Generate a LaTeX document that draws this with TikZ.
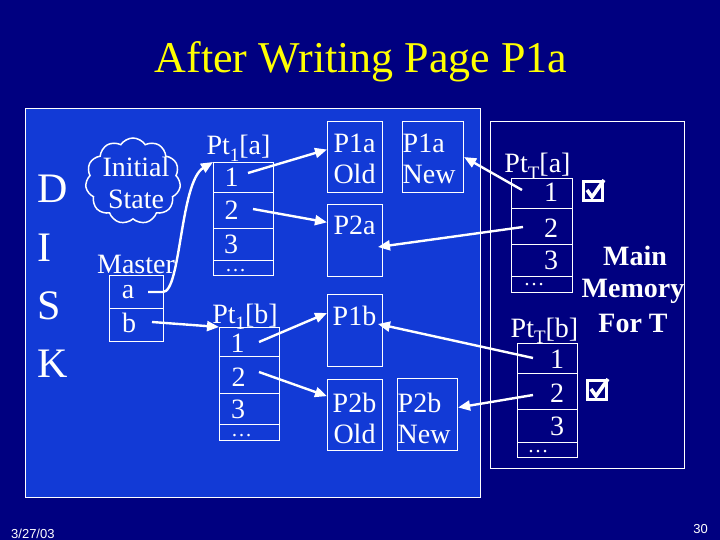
\documentclass[tikz,border=0pt]{standalone}
\usepackage{fontspec}
\setmainfont{Liberation Serif}
\newfontfamily\datefont{Liberation Sans}
\usetikzlibrary{shapes.symbols,arrows.meta}
\definecolor{navy}{RGB}{0,0,128}
\definecolor{diskblue}{RGB}{18,58,214}
\definecolor{titleyellow}{RGB}{255,255,0}
\newcommand\sbs[1]{\raisebox{-0.24em}{\fontsize{19}{19}\selectfont #1}}
\begin{document}
\begin{tikzpicture}[x=1pt,y=-1pt,
  txt/.style={text=white, font=\fontsize{28}{28}\selectfont, inner sep=0, anchor=base},
  dots/.style={text=white, font=\fontsize{21}{21}\selectfont, inner sep=0, anchor=base},
  big/.style={text=white, font=\fontsize{42}{42}\selectfont, inner sep=0, anchor=base west},
  bold/.style={text=white, font=\bfseries\fontsize{28}{28}\selectfont, inner sep=0, anchor=base},
  small/.style={text=white, font=\datefont\fontsize{13}{13}\selectfont, inner sep=0},
  cell/.style={draw=white, line width=1.1pt, anchor=north west, inner sep=0, minimum width=#1},
  pagebox/.style={draw=white, line width=1.1pt, anchor=north west, inner sep=0},
  arr/.style={white, line width=2.4pt, -{Triangle[length=12pt,width=10pt]}},
  chk/.style={draw=white, line width=3pt, minimum size=19pt, inner sep=0},
  chkmark/.style={white, line width=3.6pt, line join=miter},
]
\useasboundingbox (0,0) rectangle (720,540);
\fill[navy] (0,0) rectangle (720,540);

% title
\node[text=titleyellow, font=\fontsize{44}{44}\selectfont, inner sep=0, anchor=base] (title) at (361,73) {After Writing Page P1a};

% disk and memory areas
\node[draw=white, fill=diskblue, line width=0.8pt, anchor=north west, minimum width=455pt, minimum height=389pt, inner sep=0] (disk) at (25,108) {};
\node[draw=white, line width=1pt, anchor=north west, minimum width=194pt, minimum height=347pt, inner sep=0] (mem) at (490,121) {};

% DISK letters
\node[big] (lD) at (37,203) {D};
\node[big] (lI) at (37,261) {I};
\node[big] (lS) at (37,319) {S};
\node[big] (lK) at (37,377) {K};

% initial state cloud
\node[cloud, draw=white, line width=1.5pt, cloud puffs=11, cloud puff arc=115, aspect=1.15, minimum width=95pt, minimum height=86pt, inner sep=0] (cloud) at (133,181) {};
\node[txt, anchor=center, align=center, font=\fontsize{28}{32}\selectfont] (inittxt) at (136,183) {Initial\\State};

% Master
\node[txt] (masterlbl) at (136,273) {Master};
\node[cell=54pt, minimum height=33pt] (ma) at (109,275) {};
\node[cell=54pt, minimum height=33pt] (mb) at (109,308) {};
\node[txt] (mat) at (128,298) {a};
\node[txt] (mbt) at (129,332) {b};
\coordinate (mastart) at (148,292);
\coordinate (mbstart) at (152,322);

% Pt1[a]
\node[txt] (talbl) at (238.5,155) {Pt\sbs{1}[a]};
\node[cell=60pt, minimum height=30pt] (ta1) at (213,162) {};
\node[cell=60pt, minimum height=36pt] (ta2) at (213,192) {};
\node[cell=60pt, minimum height=32pt] (ta3) at (213,228) {};
\node[cell=60pt, minimum height=15pt] (ta4) at (213,260) {};
\node[txt] (ta1t) at (231.5,187) {1};
\node[txt] (ta2t) at (231.5,219) {2};
\node[txt] (ta3t) at (231,254) {3};
\node[dots] (ta4t) at (235.5,271) {…};
\coordinate (ta1s) at (248,173);
\coordinate (ta2s) at (253,209);

% Pt1[b]
\node[txt] (tblbl) at (245,323) {Pt\sbs{1}[b]};
\node[cell=60pt, minimum height=29pt] (tb1) at (219,327) {};
\node[cell=60pt, minimum height=37pt] (tb2) at (219,356) {};
\node[cell=60pt, minimum height=31pt] (tb3) at (219,393) {};
\node[cell=60pt, minimum height=16pt] (tb4) at (219,424) {};
\node[txt] (tb1t) at (237.5,352) {1};
\node[txt] (tb2t) at (238.5,386) {2};
\node[txt] (tb3t) at (238,418) {3};
\node[dots] (tb4t) at (241.5,436) {…};
\coordinate (tb1s) at (259,342);
\coordinate (tb2s) at (259,372);

% disk pages
\node[pagebox, minimum width=55pt, minimum height=71pt] (p1aold) at (327,121) {};
\node[pagebox, minimum width=61pt, minimum height=71pt] (p1anew) at (402,121) {};
\node[pagebox, minimum width=55pt, minimum height=72pt] (p2a) at (327,204) {};
\node[pagebox, minimum width=55pt, minimum height=72pt] (p1b) at (327,294) {};
\node[pagebox, minimum width=55pt, minimum height=71pt] (p2bold) at (327,379) {};
\node[pagebox, minimum width=60pt, minimum height=72pt] (p2bnew) at (397,378) {};
\node[txt] (p1aoldt) at (354.5,153) {P1a};
\node[txt] (p1aoldt2) at (354.5,184) {Old};
\node[txt, anchor=base west] (p1anewt) at (402.5,153) {P1a};
\node[txt, anchor=base west] (p1anewt2) at (402.5,184) {New};
\node[txt] (p2at) at (354.5,235) {P2a};
\node[txt] (p1bt) at (354.5,325) {P1b};
\node[txt] (p2boldt) at (354.5,412) {P2b};
\node[txt] (p2boldt2) at (354.5,443) {Old};
\node[txt, anchor=base west] (p2bnewt) at (397.5,412) {P2b};
\node[txt, anchor=base west] (p2bnewt2) at (397.5,443) {New};

% PtT[a]
\node[txt] (tclbl) at (537.5,173) {Pt\sbs{T}[a]};
\node[cell=61pt, minimum height=30pt] (tc1) at (511,178) {};
\node[cell=61pt, minimum height=36pt] (tc2) at (511,208) {};
\node[cell=61pt, minimum height=32pt] (tc3) at (511,244) {};
\node[cell=61pt, minimum height=16pt] (tc4) at (511,276) {};
\node[txt] (tc1t) at (551,202) {1};
\node[txt] (tc2t) at (551,237) {2};
\node[txt] (tc3t) at (551,269) {3};
\node[dots] (tc4t) at (534,285) {…};
\coordinate (tc1s) at (522,190);
\coordinate (tc2s) at (523,227);

% PtT[b]
\node[txt] (tdlbl) at (544.5,337) {Pt\sbs{T}[b]};
\node[cell=60pt, minimum height=30pt] (td1) at (517,343) {};
\node[cell=60pt, minimum height=36pt] (td2) at (517,373) {};
\node[cell=60pt, minimum height=33pt] (td3) at (517,409) {};
\node[cell=60pt, minimum height=15pt] (td4) at (517,442) {};
\node[txt] (td1t) at (557,368) {1};
\node[txt] (td2t) at (557,402) {2};
\node[txt] (td3t) at (557,435) {3};
\node[dots] (td4t) at (538,452) {…};
\coordinate (td1s) at (533,358);
\coordinate (td2s) at (533,395);

% check boxes
\node[chk] (cb1) at (593,191) {};
\draw[chkmark] ([shift={(-6,-1)}]cb1.center) -- ([shift={(-1,6)}]cb1.center) -- ([shift={(11,-11)}]cb1.center);
\node[chk] (cb2) at (597,390) {};
\draw[chkmark] ([shift={(-6,-1)}]cb2.center) -- ([shift={(-1,6)}]cb2.center) -- ([shift={(11,-11)}]cb2.center);

% main memory label
\node[bold] (mm1) at (635,265) {Main};
\node[bold] (mm2) at (633,297) {Memory};
\node[bold] (mm3) at (633,332) {For T};

% footer
\node[small, anchor=base west] (date) at (11,538) {3/27/03};
\node[small, anchor=base east] (pnum) at (708,533) {30};

% connectors
\draw[arr] (mastart) -- (163,292) .. controls (181,292) and (180,182) .. (ta1.north west);
\draw[arr] (mbstart) -- (tb1.north west);
\draw[arr] (ta1s) -- (p1aold.165);
\draw[arr] (ta2s) -- (p2a.147);
\draw[arr] (tb1s) -- (p1b.148);
\draw[arr] (tb2s) -- (p2bold.146);
\coordinate (p2aend) at (378,247);
\coordinate (p1bend) at (378,324);
\draw[arr] (tc1s) -- (p1anew.east);
\draw[arr] (tc2s) -- (p2aend);
\draw[arr] (td1s) -- (p1bend);
\draw[arr] (td2s) -- (p2bnew.13);
\end{tikzpicture}
\end{document}
